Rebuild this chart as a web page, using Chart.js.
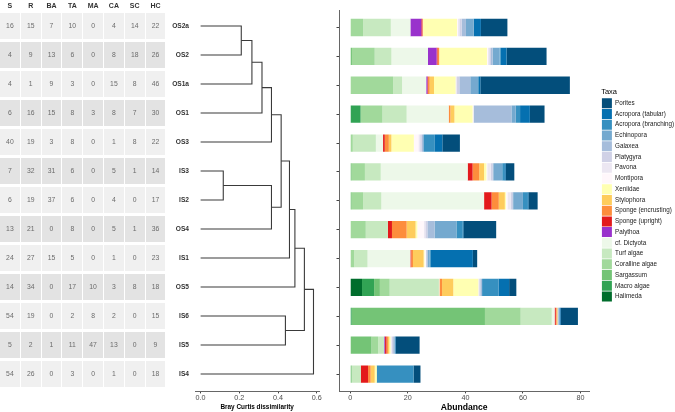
<!DOCTYPE html>
<html>
<head>
<meta charset="utf-8">
<script src="https://cdn.jsdelivr.net/npm/chart.js@4.4.1/dist/chart.umd.min.js"></script>
<style>
  html, body { margin: 0; padding: 0; background: #fff; }
  #wrap { position: relative; width: 675px; height: 412px; overflow: hidden; font-family: "Liberation Sans", Arial, sans-serif; }
  #table { position: absolute; left: 0; top: 0; width: 170px; height: 412px; will-change: transform; }
  .cell { position: absolute; display: flex; align-items: center; justify-content: center; font-size: 6.8px; color: #6b6b6b; }
  .head { position: absolute; top: 0; height: 11px; display: flex; align-items: center; justify-content: center; font-size: 7px; font-weight: bold; color: #333; }
  #dendro { position: absolute; left: 166px; top: 0; width: 170px; height: 412px; }
  #bars { position: absolute; left: 326px; top: 0; width: 349px; height: 412px; }
</style>
</head>
<body>
<div id="wrap">
  <div id="table"></div>
  <canvas id="dendro" width="170" height="412"></canvas>
  <canvas id="bars" width="349" height="412"></canvas>
</div>
<script>
// Sites (top to bottom, dendrogram order)
var sites = ['OS2a', 'OS2', 'OS1a', 'OS1', 'OS3', 'IS3', 'IS2', 'OS4', 'IS1', 'OS5', 'IS6', 'IS5', 'IS4'];

// Tabla de cobertura (%)
var tableHeads = ['S', 'R', 'BA', 'TA', 'MA', 'CA', 'SC', 'HC'];
var tableValues = [
    [16, 15, 7, 10, 0, 4, 14, 22],
    [4, 9, 13, 6, 0, 8, 18, 26],
    [4, 1, 9, 3, 0, 15, 8, 46],
    [6, 16, 15, 8, 3, 8, 7, 30],
    [40, 19, 3, 8, 0, 1, 8, 22],
    [7, 32, 31, 6, 0, 5, 1, 14],
    [6, 19, 37, 6, 0, 4, 0, 17],
    [13, 21, 0, 8, 0, 5, 1, 36],
    [24, 27, 15, 5, 0, 1, 0, 23],
    [14, 34, 0, 17, 10, 3, 8, 18],
    [54, 19, 0, 2, 8, 2, 0, 15],
    [5, 2, 1, 11, 47, 13, 0, 9],
    [54, 26, 0, 3, 0, 1, 0, 18]
];

// Dendrograma (convención hclust: negativo = hoja, positivo = fusión previa)
var mergeA = [-6, -1, 2, 3, 4, 1, 5, -11, 7, 9, 10, 11];
var mergeB = [-7, -2, -3, -4, -5, -8, 6, -12, -9, -10, 8, -13];
var mergeHeight = [0.117, 0.21, 0.265, 0.317, 0.366, 0.366, 0.416, 0.438, 0.459, 0.487, 0.536, 0.583];
var dissimTicks = [0, 0.2, 0.4, 0.6];

// Abundancia por taxón (orden de apilado, izquierda a derecha)
var halimeda     = [0, 0, 0, 0, 0, 0, 0, 0, 0, 4.1, 0, 0, 0];
var macroAlgae   = [0, 0, 0, 3.6, 0, 0, 0, 0, 0, 4.2, 0.5, 0, 0];
var sargassum    = [0, 0.6, 0, 0, 0, 0.5, 0.5, 0, 0, 2.0, 46.3, 7.4, 0.5];
var coralline    = [4.5, 7.9, 14.9, 7.6, 0.9, 4.6, 4.0, 5.4, 1.4, 3.4, 12.4, 2.3, 0];
var turf         = [9.6, 5.8, 3.1, 8.4, 8.0, 5.5, 6.3, 7.7, 4.6, 17.1, 10.8, 2.1, 3.2];
var dictyota     = [6.8, 12.7, 8.4, 14.6, 2.5, 30.2, 35.7, 0, 14.9, 0.2, 1.0, 0, 0];
var palythoa     = [3.8, 3.0, 0.4, 0, 0, 0, 0, 0, 0, 0, 0, 0.3, 0];
var spongeUp     = [0.4, 0.3, 0.2, 0, 0.6, 1.7, 2.6, 1.4, 0.3, 0, 0.4, 0.5, 2.5];
var spongeEnc    = [0, 0.6, 0.6, 0.6, 1.4, 2.3, 2.5, 5.1, 0.6, 0.9, 0.3, 0.5, 0.9];
var stylophora   = [0, 0, 1.5, 1.4, 0.9, 1.7, 2.1, 3.1, 3.7, 3.9, 0.3, 0.5, 1.4];
var xeniidae     = [12, 16.6, 7.5, 6.3, 7.8, 0.8, 0.4, 0.6, 0.3, 8.7, 0, 0.4, 0.7];
var montipora    = [0.3, 0.3, 0, 0.2, 1.6, 0.3, 0.5, 2.2, 0.6, 0, 0, 0, 0];
var pavona       = [0.5, 0.5, 0.5, 0.2, 0.6, 1.2, 1.1, 0.6, 0, 0.3, 0, 0.4, 0];
var platygyra    = [0.8, 0.6, 0.8, 0, 0.6, 0.6, 0.6, 0.7, 0, 0.4, 0, 0.5, 0];
var galaxea      = [1.5, 0.6, 3.8, 13.1, 0.4, 0.3, 0.3, 2.5, 0.5, 0.6, 0.4, 0.4, 0];
var echinopora   = [2.7, 2.4, 2.7, 1.5, 0.3, 3.1, 3.4, 7.6, 0.7, 0, 0.3, 0.3, 0];
var acroBranch   = [0, 0.4, 0.3, 1.5, 3.8, 0.7, 1.5, 2.2, 0.4, 5.7, 0, 0, 12.8];
var acroTabular  = [2.5, 2.0, 0.5, 3.4, 2.6, 0.5, 0.4, 0.2, 14.6, 3.7, 0.4, 0.2, 0];
var porites      = [9.2, 13.9, 31.1, 5.1, 6.1, 3.0, 3.2, 11.4, 1.5, 2.5, 6.0, 8.3, 2.4];
var abundanceTicks = [0, 20, 40, 60, 80];

var taxaNames = ['Halimeda', 'Macro algae', 'Sargassum', 'Coralline algae', 'Turf algae', 'cf. Dictyota',
    'Palythoa', 'Sponge (upright)', 'Sponge (encrusting)', 'Stylophora', 'Xeniidae', 'Montipora', 'Pavona',
    'Platygyra', 'Galaxea', 'Echinopora', 'Acropora (branching)', 'Acropora (tabular)', 'Porites'];
var taxaValues = [halimeda, macroAlgae, sargassum, coralline, turf, dictyota, palythoa, spongeUp, spongeEnc,
    stylophora, xeniidae, montipora, pavona, platygyra, galaxea, echinopora, acroBranch, acroTabular, porites];
var taxaColors = ['#006d2c', '#31a354', '#74c476', '#a1d99b', '#c7e9c0', '#edf8e9',
    '#9932cc', '#e31a1c', '#fd8d3c', '#fecc5c', '#ffffb2', '#fff7fb', '#ece7f2',
    '#d0d1e6', '#a6bddb', '#74a9cf', '#3690c0', '#0570b0', '#034e7b'];

Chart.defaults.font.family = '"Liberation Sans", Arial, sans-serif';
Chart.defaults.color = '#4d4d4d';
Chart.defaults.animation = false;

// --- Tabla ---
var table = document.getElementById('table');
tableHeads.forEach(function (h, c) {
    var d = document.createElement('div');
    d.className = 'head';
    d.style.left = (c * 20.8) + 'px';
    d.style.width = '19.8px';
    d.textContent = h;
    table.appendChild(d);
});
tableValues.forEach(function (row, r) {
    row.forEach(function (v, c) {
        var d = document.createElement('div');
        d.className = 'cell';
        d.style.left = (c * 20.8) + 'px';
        d.style.width = '19.8px';
        d.style.top = (12.7 + r * 29) + 'px';
        d.style.height = '26.6px';
        d.style.background = (r % 2 === 0) ? '#f0f0f0' : '#e3e3e3';
        d.textContent = v;
        table.appendChild(d);
    });
});

// --- Dendrograma ---
var nodes = [];
function nodePos(ref) {
    if (ref < 0) return { x: 0, y: -ref - 1 };
    return nodes[ref - 1];
}
var dendroSets = [];
for (var j = 0; j < mergeHeight.length; j++) {
    var a = nodePos(mergeA[j]);
    var b = nodePos(mergeB[j]);
    var h = mergeHeight[j];
    nodes.push({ x: h, y: (a.y + b.y) / 2 });
    dendroSets.push({
        data: [{ x: a.x, y: a.y }, { x: h, y: a.y }, { x: h, y: b.y }, { x: b.x, y: b.y }],
        showLine: true,
        borderColor: '#3a3a3a',
        borderWidth: 1.1,
        pointRadius: 0,
        tension: 0
    });
}

function siteTicks(scale) {
    scale.ticks = sites.map(function (s, i) { return { value: i }; });
}

new Chart(document.getElementById('dendro'), {
    type: 'scatter',
    data: { datasets: dendroSets },
    options: {
        responsive: false,
        layout: { padding: { top: 8.6, bottom: 0, left: 0, right: 16.7 } },
        plugins: { legend: { display: false }, tooltip: { enabled: false } },
        scales: {
            x: {
                type: 'linear',
                min: -0.029,
                max: 0.613,
                afterBuildTicks: function (s) { s.ticks = dissimTicks.map(function (v) { return { value: v }; }); },
                afterFit: function (s) { s.height = 20.6; },
                ticks: { font: { size: 7.2 }, padding: 0.5, callback: function (v) { return v.toFixed(1); } },
                grid: { drawOnChartArea: false, tickLength: 2, color: '#444' },
                border: { color: '#666', width: 1 },
                title: { display: true, text: 'Bray Curtis dissimilarity', color: '#000',
                    font: { size: 6.4, weight: 'bold', lineHeight: 1 }, padding: { top: 0, bottom: 1.5 } }
            },
            y: {
                type: 'linear',
                reverse: true,
                min: -0.6,
                max: 12.6,
                afterBuildTicks: siteTicks,
                afterFit: function (s) { s.width = 29; },
                ticks: { font: { size: 6.6, weight: 'bold' }, color: '#333', padding: -2,
                    callback: function (v) { return sites[v]; } },
                grid: { display: false },
                border: { display: false }
            }
        }
    }
});

// --- Barras apiladas ---
var barSets = taxaNames.map(function (name, k) {
    return {
        label: name,
        data: taxaValues[k].map(function (v, i) { return { x: v, y: i }; }),
        backgroundColor: taxaColors[k],
        borderWidth: 0,
        stack: 'taxa',
        categoryPercentage: 1,
        barPercentage: 0.6
    };
});

// separa la leyenda del área del gráfico
var legendGap = 12;
var legendNudge = {
    id: 'legendNudge',
    afterLayout: function (chart) {
        chart.legend.left += legendGap;
        chart.legend.right += legendGap;
    }
};

new Chart(document.getElementById('bars'), {
    type: 'bar',
    data: { datasets: barSets },
    plugins: [legendNudge],
    options: {
        responsive: false,
        indexAxis: 'y',
        layout: { padding: { top: 8.6, bottom: 0, left: 0, right: 2.8 } },
        plugins: {
            tooltip: { enabled: false },
            legend: {
                position: 'right',
                align: 'start',
                reverse: true,
                title: { display: true, text: 'Taxa', color: '#000', position: 'start',
                    font: { size: 7.5, lineHeight: 1.2 }, padding: { top: 79.3, bottom: 0.6 } },
                labels: { boxWidth: 10, boxHeight: 10, padding: 0.74, color: '#1a1a1a', font: { size: 6.3 } }
            }
        },
        scales: {
            x: {
                type: 'linear',
                stacked: true,
                min: -3.9,
                max: 83,
                afterBuildTicks: function (s) { s.ticks = abundanceTicks.map(function (v) { return { value: v }; }); },
                afterFit: function (s) { s.height = 20.6; },
                ticks: { font: { size: 7.2 }, padding: 0.5 },
                grid: { drawOnChartArea: false, tickLength: 2, color: '#444' },
                border: { color: '#666', width: 1 },
                title: { display: true, text: 'Abundance', color: '#000',
                    font: { size: 8.6, weight: 'bold', lineHeight: 1 }, padding: { top: 0, bottom: 0 } }
            },
            y: {
                type: 'linear',
                reverse: true,
                offset: false,
                min: -0.6,
                max: 12.6,
                afterBuildTicks: siteTicks,
                afterFit: function (s) { s.width = 13; },
                ticks: { callback: function () { return ''; } },
                grid: { drawOnChartArea: false, tickLength: 2.5, color: '#444', offset: false },
                border: { color: '#666', width: 1 }
            }
        }
    }
});
</script>
</body>
</html>
